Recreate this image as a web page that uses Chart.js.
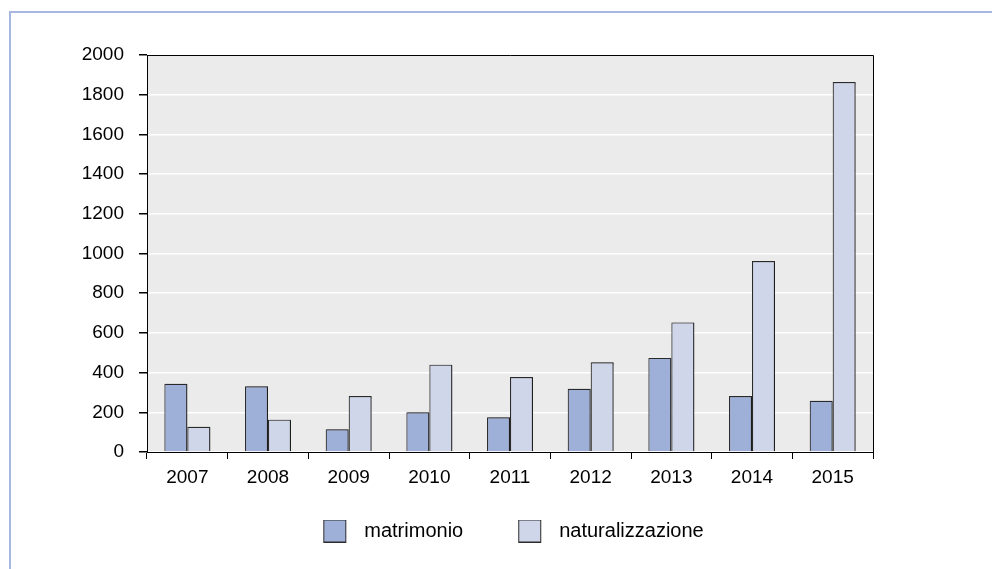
<!DOCTYPE html>
<html>
<head>
<meta charset="utf-8">
<script src="https://cdn.jsdelivr.net/npm/chart.js@4"></script>
<style>
  html, body { margin: 0; padding: 0; background: #ffffff; }
  #wrap { position: relative; width: 992px; height: 569px; overflow: hidden; }
  #frame { position: absolute; left: 9px; top: 11px; width: 1100px; height: 700px;
           border-left: 2px solid #a8b7df; border-top: 2px solid #a8b7df; }
  canvas { position: absolute; left: 0; top: 0; }
</style>
</head>
<body>
<div id="wrap">
  <div id="frame"></div>
  <canvas id="c" width="992" height="569"></canvas>
</div>
<script>
const categories = ["2007", "2008", "2009", "2010", "2011", "2012", "2013", "2014", "2015"];
const seriesNames = ["matrimonio", "naturalizzazione"];
const matrimonio = [344, 331, 114, 200, 175, 319, 474, 282, 258];
const naturalizzazione = [127, 163, 282, 440, 378, 452, 653, 962, 1864];
const yTicks = [0, 200, 400, 600, 800, 1000, 1200, 1400, 1600, 1800, 2000];
const seriesColors = ['#9eafd8', '#cfd6ea'];

const FAMILY = "'Liberation Sans', Arial, Helvetica, sans-serif";
const FONT = { family: FAMILY, size: 19 };
const LEGEND_FONT = { family: FAMILY, size: 20 };

// legend swatches: a 23px box placed towards the right of a wider transparent slot
function makeSwatch(color) {
  const c = document.createElement('canvas');
  c.width = 66; c.height = 23;
  const g = c.getContext('2d');
  g.fillStyle = color;
  g.fillRect(35, 0, 23, 23);
  g.strokeStyle = '#2b2b2b';
  g.lineWidth = 1;
  g.strokeRect(35.5, 0.5, 22, 22);
  return c;
}
const swatches = seriesColors.map(makeSwatch);

const plotDecor = {
  id: 'plotDecor',
  beforeDraw(chart) {
    const a = chart.chartArea, ctx = chart.ctx;
    ctx.save();
    ctx.fillStyle = '#ebebeb';
    ctx.fillRect(a.left, a.top, a.right - a.left, a.bottom - a.top);
    ctx.restore();
  },
  beforeDatasetsDraw(chart) {
    const ctx = chart.ctx;
    ctx.save();
    ctx.shadowColor = 'rgba(0,0,0,0.35)';
    ctx.shadowOffsetX = 1.5;
    ctx.shadowOffsetY = 0;
    ctx.shadowBlur = 1;
  },
  afterDatasetsDraw(chart) {
    chart.ctx.restore();
  },
  afterDraw(chart) {
    const a = chart.chartArea, ctx = chart.ctx;
    ctx.save();
    ctx.strokeStyle = '#000';
    ctx.lineWidth = 1;
    ctx.beginPath();
    ctx.moveTo(a.left, a.top + 0.5);
    ctx.lineTo(a.right + 0.5, a.top + 0.5);
    ctx.lineTo(a.right + 0.5, a.bottom);
    ctx.stroke();
    ctx.restore();
  }
};

new Chart(document.getElementById('c'), {
  type: 'bar',
  data: {
    labels: categories,
    datasets: [
      { label: seriesNames[0], data: matrimonio, backgroundColor: seriesColors[0], borderColor: '#2b2b2b', borderWidth: 1.2 },
      { label: seriesNames[1], data: naturalizzazione, backgroundColor: seriesColors[1], borderColor: '#2b2b2b', borderWidth: 1.2 }
    ]
  },
  options: {
    responsive: false,
    animation: false,
    devicePixelRatio: 1,
    layout: { padding: { top: 55, right: 0, bottom: 18, left: 0 } },
    datasets: { bar: { categoryPercentage: 0.57, barPercentage: 1.0 } },
    plugins: {
      tooltip: { enabled: false },
      legend: {
        position: 'bottom',
        labels: {
          font: LEGEND_FONT, color: '#000',
          usePointStyle: true, pointStyleWidth: 66, boxHeight: 22,
          padding: 20,
          generateLabels(chart) {
            const items = Chart.defaults.plugins.legend.labels.generateLabels(chart);
            items.forEach((it, i) => { it.pointStyle = swatches[i]; });
            return items;
          }
        }
      }
    },
    scales: {
      x: {
        afterFit(scale) { scale.height = 49; },
        grid: { offset: true, drawOnChartArea: false, tickColor: '#000', tickLength: 7, color: '#000' },
        border: { display: true, color: '#000', width: 1 },
        ticks: { font: FONT, color: '#000', padding: 7, maxRotation: 0 }
      },
      y: {
        min: 0, max: 2000,
        afterFit(scale) { scale.width = 147; },
        afterBuildTicks(scale) { scale.ticks = yTicks.map(v => ({ value: v })); },
        grid: { color: '#ffffff', lineWidth: 1.5, tickColor: '#000', tickLength: 8 },
        border: { display: true, color: '#000', width: 1 },
        ticks: { font: FONT, color: '#000', padding: 15, callback: v => String(v) }
      },
      yRight: {
        type: 'linear',
        position: 'right',
        display: true,
        afterFit(scale) { scale.width = 119; },
        grid: { display: false },
        border: { display: false },
        ticks: { display: false }
      }
    }
  },
  plugins: [plotDecor]
});
</script>
</body>
</html>
